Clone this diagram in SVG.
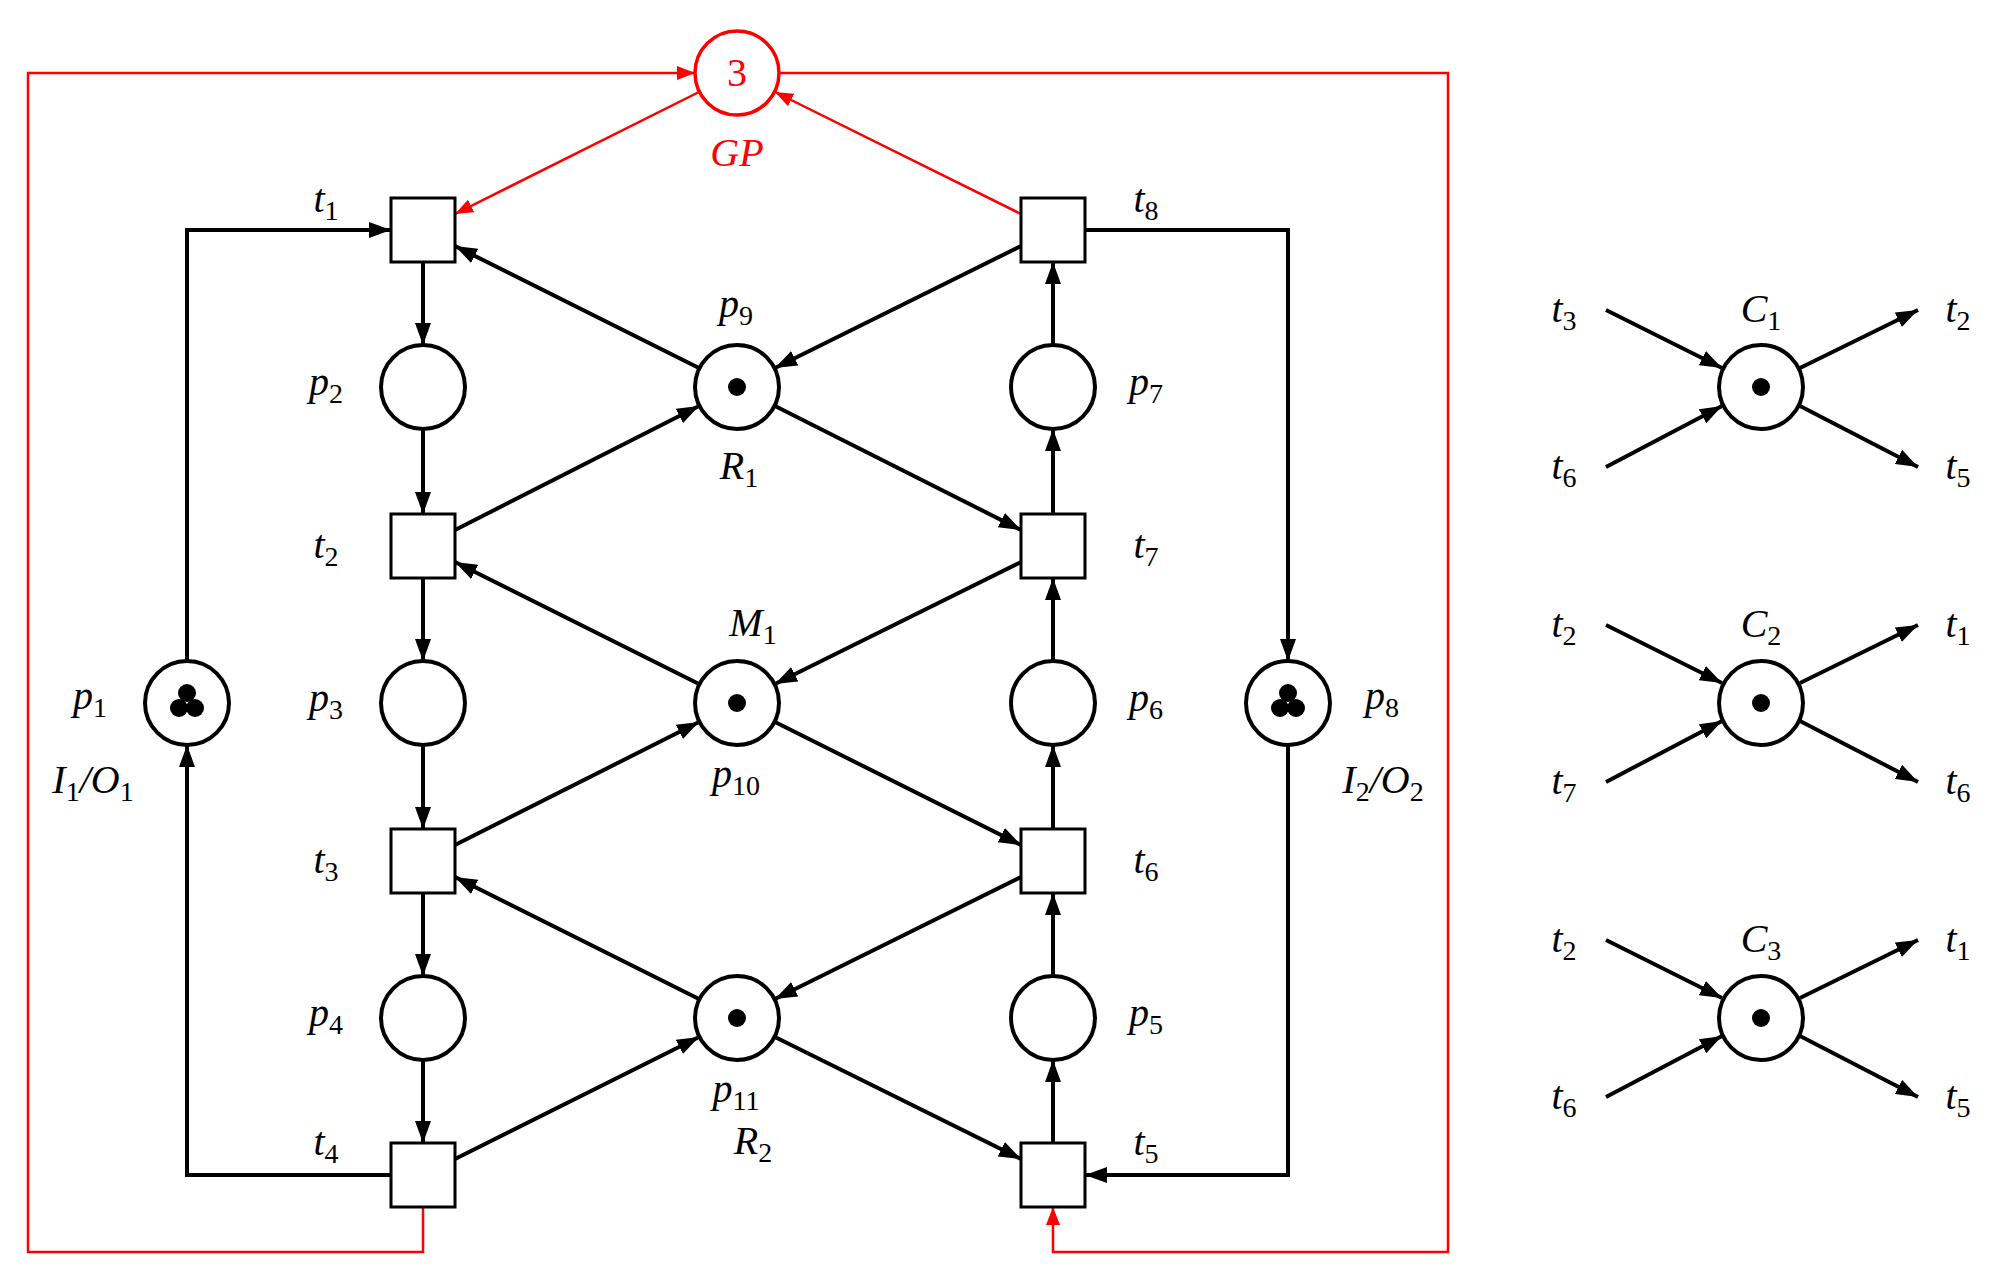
<svg xmlns="http://www.w3.org/2000/svg" width="2008" height="1271" viewBox="0 0 2008 1271">
<style>
.pl{fill:#fff;stroke:#000;stroke-width:4}
.tr{fill:#fff;stroke:#000;stroke-width:3}
.tk{fill:#000}
.e{fill:none;stroke:#000;stroke-width:4;marker-end:url(#a)}
.r{fill:none;stroke:#f00;stroke-width:2.5}
.ra{marker-end:url(#ar)}
text{font-family:"Liberation Serif",serif;font-style:italic;font-size:40px;text-anchor:middle}
.s{font-style:normal;font-size:28px}
</style>
<defs>
<marker id="a" markerUnits="userSpaceOnUse" markerWidth="24" markerHeight="16" refX="22" refY="8" orient="auto"><path d="M0,0L22,8L0,16z"/></marker>
<marker id="ar" markerUnits="userSpaceOnUse" markerWidth="20" markerHeight="14" refX="18" refY="7" orient="auto"><path d="M0,0L18,7L0,14z" fill="#f00"/></marker>
</defs>
<g id="connectors">
<path class="r ra" d="M423,1207V1252H28V73H695"/>
<path class="r ra" d="M779,73H1448V1252H1053V1207"/>
<path class="r ra" d="M699,92L455,214"/>
<path class="r ra" d="M1021,214L775,92"/>
<path class="e" d="M187,661V230H391"/>
<path class="e" d="M391,1175H187V745"/>
<path class="e" d="M1085,230H1288V661"/>
<path class="e" d="M1288,745V1175H1085"/>
<path class="e" d="M423,262V345"/><path class="e" d="M423,429V514"/>
<path class="e" d="M423,578V661"/><path class="e" d="M423,745V829"/>
<path class="e" d="M423,893V976"/><path class="e" d="M423,1060V1143"/>
<path class="e" d="M1053,1143V1060"/><path class="e" d="M1053,976V893"/>
<path class="e" d="M1053,829V745"/><path class="e" d="M1053,661V578"/>
<path class="e" d="M1053,514V429"/><path class="e" d="M1053,345V262"/>
<path class="e" d="M699,368L455,246"/><path class="e" d="M455,530L699,406"/>
<path class="e" d="M775,406L1021,530"/><path class="e" d="M1021,246L775,368"/>
<path class="e" d="M699,684L455,562"/><path class="e" d="M455,845L699,722"/>
<path class="e" d="M775,722L1021,845"/><path class="e" d="M1021,562L775,684"/>
<path class="e" d="M699,999L455,877"/><path class="e" d="M455,1159L699,1037"/>
<path class="e" d="M775,1037L1021,1159"/><path class="e" d="M1021,877L775,999"/>
<path class="e" d="M1606,310L1722,368"/><path class="e" d="M1606,467L1722,406"/>
<path class="e" d="M1800,368L1918,310"/><path class="e" d="M1800,406L1918,467"/>
<path class="e" d="M1606,625L1722,683"/><path class="e" d="M1606,782L1722,721"/>
<path class="e" d="M1800,683L1918,625"/><path class="e" d="M1800,721L1918,782"/>
<path class="e" d="M1606,940L1722,998"/><path class="e" d="M1606,1097L1722,1036"/>
<path class="e" d="M1800,998L1918,940"/><path class="e" d="M1800,1036L1918,1097"/>
</g>
<g id="GP"><circle cx="737" cy="73" r="42" fill="#fff" stroke="#f00" stroke-width="3.5"/><text x="737" y="86" fill="#f00" style="font-style:normal">3</text><text x="737" y="166" fill="#f00">GP</text></g>
<g id="t1"><rect class="tr" x="391" y="198" width="64" height="64"/><text x="326" y="212">t<tspan class="s" dy="8">1</tspan></text></g>
<g id="t2"><rect class="tr" x="391" y="514" width="64" height="64"/><text x="326" y="558">t<tspan class="s" dy="8">2</tspan></text></g>
<g id="t3"><rect class="tr" x="391" y="829" width="64" height="64"/><text x="326" y="873">t<tspan class="s" dy="8">3</tspan></text></g>
<g id="t4"><rect class="tr" x="391" y="1143" width="64" height="64"/><text x="326" y="1155">t<tspan class="s" dy="8">4</tspan></text></g>
<g id="t8"><rect class="tr" x="1021" y="198" width="64" height="64"/><text x="1146" y="212">t<tspan class="s" dy="8">8</tspan></text></g>
<g id="t7"><rect class="tr" x="1021" y="514" width="64" height="64"/><text x="1146" y="558">t<tspan class="s" dy="8">7</tspan></text></g>
<g id="t6"><rect class="tr" x="1021" y="829" width="64" height="64"/><text x="1146" y="873">t<tspan class="s" dy="8">6</tspan></text></g>
<g id="t5"><rect class="tr" x="1021" y="1143" width="64" height="64"/><text x="1146" y="1155">t<tspan class="s" dy="8">5</tspan></text></g>
<g id="p2"><circle class="pl" cx="423" cy="387" r="42"/><text x="326" y="395">p<tspan class="s" dy="8">2</tspan></text></g>
<g id="p3"><circle class="pl" cx="423" cy="703" r="42"/><text x="326" y="711">p<tspan class="s" dy="8">3</tspan></text></g>
<g id="p4"><circle class="pl" cx="423" cy="1018" r="42"/><text x="326" y="1026">p<tspan class="s" dy="8">4</tspan></text></g>
<g id="p7"><circle class="pl" cx="1053" cy="387" r="42"/><text x="1146" y="395">p<tspan class="s" dy="8">7</tspan></text></g>
<g id="p6"><circle class="pl" cx="1053" cy="703" r="42"/><text x="1146" y="711">p<tspan class="s" dy="8">6</tspan></text></g>
<g id="p5"><circle class="pl" cx="1053" cy="1018" r="42"/><text x="1146" y="1026">p<tspan class="s" dy="8">5</tspan></text></g>
<g id="p9"><circle class="pl" cx="737" cy="387" r="42"/><circle class="tk" cx="737" cy="387" r="9"/><text x="736" y="317">p<tspan class="s" dy="8">9</tspan></text><text x="739" y="479">R<tspan class="s" dy="8">1</tspan></text></g>
<g id="p10"><circle class="pl" cx="737" cy="703" r="42"/><circle class="tk" cx="737" cy="703" r="9"/><text x="753" y="636">M<tspan class="s" dy="8">1</tspan></text><text x="736" y="787">p<tspan class="s" dy="8">10</tspan></text></g>
<g id="p11"><circle class="pl" cx="737" cy="1018" r="42"/><circle class="tk" cx="737" cy="1018" r="9"/><text x="736" y="1102">p<tspan class="s" dy="8">11</tspan></text><text x="753" y="1154">R<tspan class="s" dy="8">2</tspan></text></g>
<g id="p1"><circle class="pl" cx="187" cy="703" r="42"/><circle class="tk" cx="187" cy="693" r="9"/><circle class="tk" cx="179" cy="708" r="9"/><circle class="tk" cx="195" cy="708" r="9"/><text x="90" y="709">p<tspan class="s" dy="8">1</tspan></text><text x="93" y="793">I<tspan class="s" dy="8">1</tspan><tspan dy="-8">/O</tspan><tspan class="s" dy="8">1</tspan></text></g>
<g id="p8"><circle class="pl" cx="1288" cy="703" r="42"/><circle class="tk" cx="1288" cy="693" r="9"/><circle class="tk" cx="1280" cy="708" r="9"/><circle class="tk" cx="1296" cy="708" r="9"/><text x="1382" y="709">p<tspan class="s" dy="8">8</tspan></text><text x="1383" y="793">I<tspan class="s" dy="8">2</tspan><tspan dy="-8">/O</tspan><tspan class="s" dy="8">2</tspan></text></g>
<g id="C1"><circle class="pl" cx="1761" cy="387" r="42"/><circle class="tk" cx="1761" cy="387" r="9"/><text x="1761" y="322">C<tspan class="s" dy="8">1</tspan></text>
<text x="1564" y="322">t<tspan class="s" dy="8">3</tspan></text><text x="1564" y="479">t<tspan class="s" dy="8">6</tspan></text><text x="1958" y="322">t<tspan class="s" dy="8">2</tspan></text><text x="1958" y="479">t<tspan class="s" dy="8">5</tspan></text></g>
<g id="C2"><circle class="pl" cx="1761" cy="703" r="42"/><circle class="tk" cx="1761" cy="703" r="9"/><text x="1761" y="637">C<tspan class="s" dy="8">2</tspan></text>
<text x="1564" y="637">t<tspan class="s" dy="8">2</tspan></text><text x="1564" y="794">t<tspan class="s" dy="8">7</tspan></text><text x="1958" y="637">t<tspan class="s" dy="8">1</tspan></text><text x="1958" y="794">t<tspan class="s" dy="8">6</tspan></text></g>
<g id="C3"><circle class="pl" cx="1761" cy="1018" r="42"/><circle class="tk" cx="1761" cy="1018" r="9"/><text x="1761" y="952">C<tspan class="s" dy="8">3</tspan></text>
<text x="1564" y="952">t<tspan class="s" dy="8">2</tspan></text><text x="1564" y="1109">t<tspan class="s" dy="8">6</tspan></text><text x="1958" y="952">t<tspan class="s" dy="8">1</tspan></text><text x="1958" y="1109">t<tspan class="s" dy="8">5</tspan></text></g>
</svg>
